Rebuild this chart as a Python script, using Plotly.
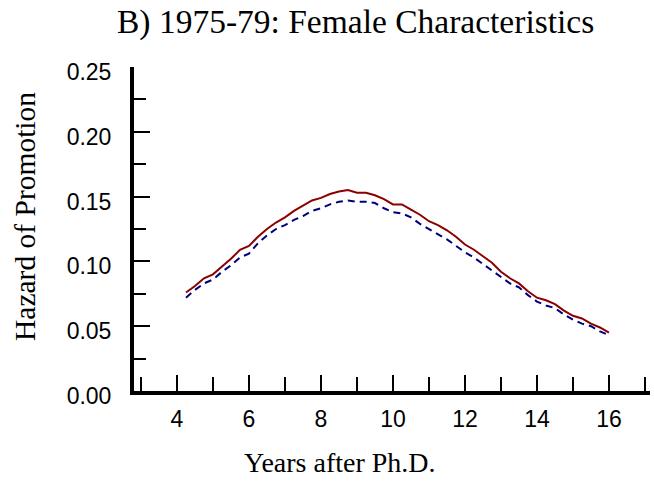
import plotly.graph_objects as go

years = [4.25, 4.5, 4.75, 5.0, 5.25, 5.5, 5.75, 6.0, 6.25, 6.5, 6.75, 7.0, 7.25, 7.5, 7.75, 8.0,
         8.25, 8.5, 8.75, 9.0, 9.25, 9.5, 9.75, 10.0, 10.25, 10.5, 10.75, 11.0, 11.25, 11.5, 11.75, 12.0,
         12.25, 12.5, 12.75, 13.0, 13.25, 13.5, 13.75, 14.0, 14.25, 14.5, 14.75, 15.0, 15.25, 15.5, 15.75, 16.0]

hazard_solid = [0.076, 0.081, 0.087, 0.090, 0.096, 0.102, 0.109, 0.112, 0.119, 0.125, 0.130, 0.134,
                0.139, 0.143, 0.147, 0.149, 0.152, 0.154, 0.155, 0.153, 0.153, 0.151, 0.148, 0.144,
                0.144, 0.140, 0.136, 0.131, 0.128, 0.124, 0.119, 0.113, 0.109, 0.104, 0.099, 0.092,
                0.087, 0.083, 0.077, 0.072, 0.070, 0.067, 0.062, 0.058, 0.056, 0.052, 0.049, 0.045]

hazard_dashed = [0.072, 0.078, 0.083, 0.086, 0.092, 0.097, 0.103, 0.106, 0.114, 0.120, 0.125, 0.128,
                 0.132, 0.135, 0.139, 0.141, 0.144, 0.146, 0.147, 0.146, 0.146, 0.145, 0.141, 0.138,
                 0.137, 0.134, 0.129, 0.125, 0.121, 0.117, 0.112, 0.107, 0.103, 0.098, 0.093, 0.088,
                 0.083, 0.080, 0.074, 0.069, 0.066, 0.064, 0.059, 0.055, 0.052, 0.050, 0.046, 0.043]

x_ticks = [4, 6, 8, 10, 12, 14, 16]
y_ticks = [0.00, 0.05, 0.10, 0.15, 0.20, 0.25]
y_tick_labels = ["0.00", "0.05", "0.10", "0.15", "0.20", "0.25"]

title_text = "B) 1975-79: Female Characteristics"
x_title = "Years after Ph.D."
y_title = "Hazard of Promotion"

fig = go.Figure()
fig.add_trace(go.Scatter(x=years, y=hazard_dashed, mode="lines",
                         line=dict(color="#00007F", width=2, dash="7px,5px"), showlegend=False))
fig.add_trace(go.Scatter(x=years, y=hazard_solid, mode="lines",
                         line=dict(color="#8B0000", width=2), showlegend=False))

W, H = 654, 495
L, R, T, B = 134, 4, 67, 104
PW, PH = W - L - R, H - T - B
serif = "Liberation Serif, Times New Roman"

fig.update_layout(
    width=W, height=H,
    margin=dict(l=L, r=R, t=T, b=B, pad=0, autoexpand=False),
    paper_bgcolor="white", plot_bgcolor="white",
    font=dict(family="Liberation Sans, Arial", color="black"),
    xaxis=dict(range=[2.806, 17.14], tickvals=x_ticks, ticktext=[str(v) for v in x_ticks],
               automargin=False,
               showgrid=False, zeroline=False, showline=True, linecolor="black", linewidth=4,
               ticks="inside", ticklen=16, tickwidth=2, tickcolor="black",
               tickfont=dict(size=23, family="Liberation Sans, Arial"), ticklabelstandoff=4,
               minor=dict(tickvals=[3, 5, 7, 9, 11, 13, 15, 17], ticks="inside", ticklen=14,
                          tickwidth=2, tickcolor="black", showgrid=False)),
    yaxis=dict(range=[0, 0.25], tickvals=y_ticks, ticktext=y_tick_labels,
               automargin=False,
               showgrid=False, zeroline=False, showline=True, linecolor="black", linewidth=4,
               ticks="inside", ticklen=16, tickwidth=2, tickcolor="black",
               tickfont=dict(size=23, family="Liberation Sans, Arial"), ticklabelstandoff=14,
               ticklabelshift=5,
               minor=dict(tickvals=[0.025, 0.075, 0.125, 0.175, 0.225], ticks="inside", ticklen=12,
                          tickwidth=2, tickcolor="black", showgrid=False)),
    annotations=[
        dict(text=title_text, x=(355 - L) / PW, y=1 + (T - 22) / PH,
             xref="paper", yref="paper", xanchor="center", yanchor="middle", showarrow=False,
             font=dict(family=serif, size=33.5, color="black")),
        dict(text=x_title, x=(340 - L) / PW, y=-(462 - (H - B)) / PH,
             xref="paper", yref="paper", xanchor="center", yanchor="middle", showarrow=False,
             font=dict(family=serif, size=28, color="black")),
        dict(text=y_title, x=-(L - 25) / PW, y=(H - B - 217) / PH,
             xref="paper", yref="paper", xanchor="center", yanchor="middle",
             textangle=-90, showarrow=False,
             font=dict(family=serif, size=29.5, color="black")),
    ],
)

fig.write_html("out.html", config={"displayModeBar": False},
               post_script="document.body.style.margin='0';document.body.style.padding='0';")
